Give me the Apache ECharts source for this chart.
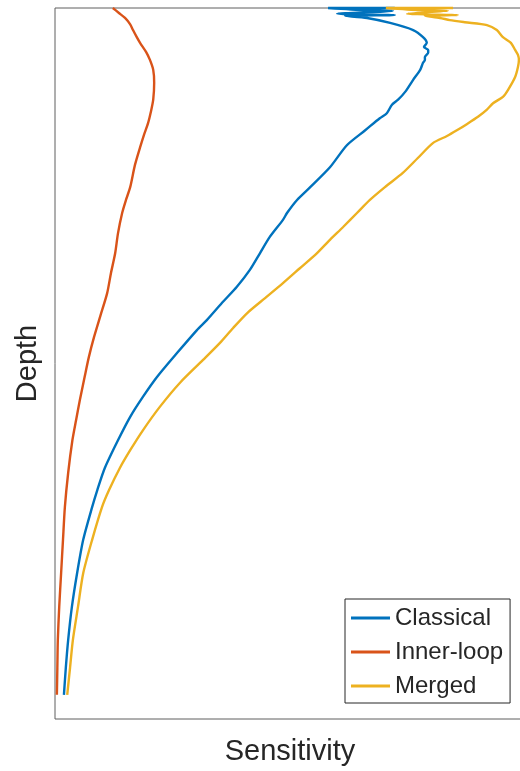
<!DOCTYPE html>
<html>
<head>
<meta charset="utf-8">
<script src="https://cdn.jsdelivr.net/npm/echarts@6/dist/echarts.min.js"></script>
<style>
  html, body { margin: 0; padding: 0; background: #fff; }
  #chart { width: 520px; height: 771px; }
</style>
</head>
<body>
<div id="chart"></div>
<script>
// Sensitivity profiles versus depth (depth increases downwards).
const seriesNames = ['Classical', 'Inner-loop', 'Merged'];

const classicalDepth = [0, 0, 0.3, 0.4, 0.8, 1.0, 1.1, 1.4, 2.1, 3.1, 4.1, 4.9, 5.5, 5.9, 6.3,
  6.9, 7.3, 7.7, 8.7, 10.1, 11.8, 12.9, 13.6, 14.8, 15.5, 17.2, 19.3, 22.4, 25.2, 27.0,
  28.8, 29.8, 32.2, 34.5, 36.8, 39.2, 41.5, 43.9, 45.3, 48.5, 51.9, 54.7, 57.5, 60.8, 64.7,
  67.8, 70.2, 74.8, 79.5, 84.2, 88.9, 92.8, 96.6];
const classicalSens = [72.3, 58.1, 66.0, 71.9, 60.0, 72.3, 61.7, 66.4, 71.3, 76.2, 78.3, 79.1, 78.5, 79.4, 79.4,
  78.7, 78.7, 78.3, 77.7, 76.2, 74.5, 73.0, 71.7, 70.6, 69.1, 66.0, 62.1, 58.5, 54.3, 51.5,
  49.4, 48.5, 45.7, 43.6, 41.5, 38.7, 35.5, 32.3, 30.2, 26.0, 21.7, 18.7, 16.0, 13.4, 10.6,
  9.0, 7.9, 6.0, 4.7, 3.6, 2.8, 2.3, 1.9];

const innerDepth = [0, 0.7, 1.4, 2.3, 3.1, 4.1, 4.9, 6.2, 7.3, 8.7, 10.5, 12.9, 14.6, 16.2, 17.9,
  19.6, 22.1, 25.2, 27.0, 28.8, 31.7, 34.5, 37.3, 40.1, 43.2, 46.3, 49.1, 51.9, 55.1, 57.9,
  60.8, 65.4, 70.2, 74.8, 79.5, 84.2, 88.9, 92.8, 96.6];
const innerSens = [12.3, 13.6, 14.9, 16.0, 16.6, 17.4, 18.1, 19.4, 20.2, 20.9, 21.1, 20.9, 20.4, 19.8, 18.9,
  18.1, 17.0, 16.0, 15.1, 14.3, 13.4, 12.8, 11.9, 11.1, 9.7, 8.3, 7.2, 6.3, 5.3, 4.5,
  3.7, 2.8, 2.1, 1.7, 1.3, 0.9, 0.6, 0.5, 0.4];

const mergedDepth = [0, 0, 0.3, 0.4, 0.8, 1.0, 1.1, 1.4, 1.7, 2.0, 2.4, 3.1, 4.1, 4.9, 5.9,
  6.6, 7.3, 8.3, 9.7, 11.5, 12.5, 13.4, 14.3, 15.3, 16.3, 17.2, 18.0, 19.0, 21.1, 23.2,
  25.2, 27.0, 28.8, 30.8, 32.6, 34.5, 36.6, 38.7, 40.8, 42.9, 45.0, 47.1, 49.5, 52.7, 56.1,
  59.4, 62.2, 64.7, 67.8, 70.2, 74.8, 79.5, 84.2, 88.9, 92.8, 96.6];
const mergedSens = [84.7, 70.4, 77.7, 83.6, 74.9, 85.7, 78.7, 81.9, 84.0, 87.2, 91.9, 94.0, 95.3, 97.0, 97.9,
  98.5, 98.7, 98.5, 97.9, 96.4, 95.3, 93.2, 91.9, 90.0, 87.7, 85.5, 83.4, 80.4, 77.2, 74.0,
  70.2, 67.0, 64.3, 61.3, 58.5, 55.7, 52.1, 48.5, 44.7, 40.9, 37.9, 35.1, 31.5, 26.6, 22.3,
  18.7, 16.0, 13.8, 11.5, 10.0, 7.9, 6.0, 4.9, 3.8, 3.2, 2.6];

const colors = ['#0072BD', '#D95319', '#EDB120'];
const FONT = '"Liberation Sans", Arial, Helvetica, sans-serif';
const TEXT = '#262626';

function pairs(sens, depth) {
  return sens.map((s, i) => [s, depth[i]]);
}

const profiles = [
  pairs(classicalSens, classicalDepth),
  pairs(innerSens, innerDepth),
  pairs(mergedSens, mergedDepth)
];

const chart = echarts.init(document.getElementById('chart'), null, { renderer: 'canvas' });

chart.setOption({
  animation: false,
  backgroundColor: '#fff',
  color: colors,
  grid: {
    left: 55, top: 8, right: -5, bottom: 52,
    outerBoundsMode: 'none',
    containLabel: false,
    show: true, borderColor: '#5e5e5e', borderWidth: 1, backgroundColor: 'transparent'
  },
  xAxis: {
    type: 'value', min: 0, max: 100,
    name: 'Sensitivity', nameLocation: 'middle', nameGap: 18,
    nameTextStyle: { fontSize: 29, color: TEXT, fontFamily: FONT },
    axisLine: { show: false }, axisTick: { show: false },
    axisLabel: { show: false }, splitLine: { show: false }
  },
  yAxis: {
    type: 'value', min: 0, max: 100, inverse: true,
    name: 'Depth', nameLocation: 'middle', nameGap: 13, nameRotate: 90,
    nameTextStyle: { fontSize: 29, color: TEXT, fontFamily: FONT },
    axisLine: { show: false }, axisTick: { show: false },
    axisLabel: { show: false }, splitLine: { show: false }
  },
  legend: {
    orient: 'vertical',
    left: 345, top: 599,
    padding: [7, 7, 5, 6],
    itemGap: 10,
    itemWidth: 39, itemHeight: 3,
    icon: 'rect',
    backgroundColor: '#fff',
    borderColor: '#262626', borderWidth: 1,
    textStyle: { fontSize: 24, lineHeight: 24, color: TEXT, fontFamily: FONT },
    data: seriesNames
  },
  series: seriesNames.map((name, i) => ({
    name: name,
    type: 'line',
    data: profiles[i],
    showSymbol: false,
    symbol: 'none',
    smooth: 0.25,
    clip: false,
    lineStyle: { width: 2.4, color: colors[i] },
    itemStyle: { color: colors[i] },
    emphasis: { disabled: true },
    z: 2 + i
  }))
});
</script>
</body>
</html>
